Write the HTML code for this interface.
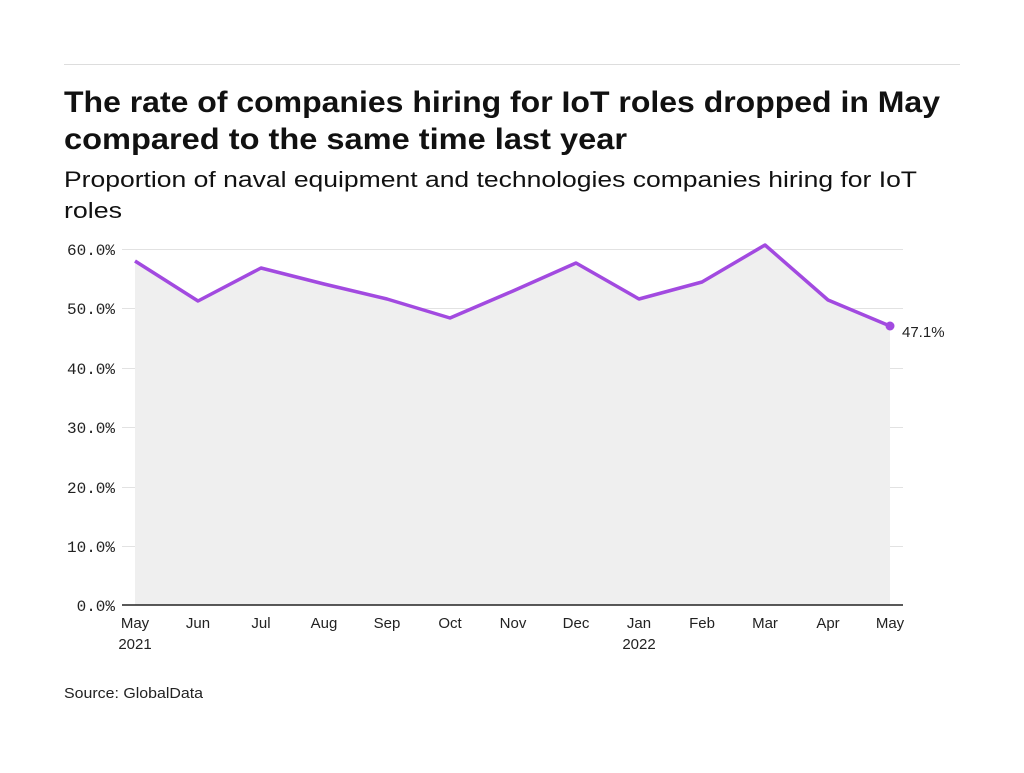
<!DOCTYPE html>
<html><head><meta charset="utf-8"><style>
body{margin:0;background:#fff;width:1024px;height:768px;overflow:hidden;font-family:"Liberation Sans",sans-serif}
</style></head><body>
<svg width="1024" height="768" xmlns="http://www.w3.org/2000/svg">
<line x1="64" y1="64.5" x2="960" y2="64.5" stroke="#ddd"/>
<text x="64" y="112" font-size="30" font-weight="bold" fill="#111" textLength="876" lengthAdjust="spacingAndGlyphs">The rate of companies hiring for IoT roles dropped in May</text>
<text x="64" y="149" font-size="30" font-weight="bold" fill="#111" textLength="563" lengthAdjust="spacingAndGlyphs">compared to the same time last year</text>
<text x="64" y="187" font-size="22" fill="#111" textLength="853" lengthAdjust="spacingAndGlyphs">Proportion of naval equipment and technologies companies hiring for IoT</text>
<text x="64" y="218" font-size="22" fill="#111" textLength="58" lengthAdjust="spacingAndGlyphs">roles</text>
<g stroke="#e2e2e2" stroke-width="1">
<line x1="122" x2="903" y1="249.5" y2="249.5"/><line x1="122" x2="903" y1="308.5" y2="308.5"/>
<line x1="122" x2="903" y1="368.5" y2="368.5"/><line x1="122" x2="903" y1="427.5" y2="427.5"/>
<line x1="122" x2="903" y1="487.5" y2="487.5"/><line x1="122" x2="903" y1="546.5" y2="546.5"/>
</g>
<polygon fill="#efefef" points="135,605 135,261 198,301 261,268 324,284 387,299 450,318 513,291 576,263 639,299 702,282 765,245 828,300 890,326 890,605"/>
<polyline fill="none" stroke="#a24ae0" stroke-width="3.5" stroke-linejoin="round" points="135,261 198,301 261,268 324,284 387,299 450,318 513,291 576,263 639,299 702,282 765,245 828,300 890,326"/>
<circle cx="890" cy="326" r="4.5" fill="#a24ae0"/>
<line x1="122" x2="903" y1="605" y2="605" stroke="#222" stroke-width="1.5"/>
<g font-family="Liberation Mono,monospace" font-size="16" fill="#222" text-anchor="end">
<text x="115" y="255">60.0%</text><text x="115" y="314">50.0%</text><text x="115" y="374">40.0%</text>
<text x="115" y="433">30.0%</text><text x="115" y="493">20.0%</text><text x="115" y="552">10.0%</text><text x="115" y="611">0.0%</text>
</g>
<text x="902" y="337" font-size="15" fill="#222">47.1%</text>
<g font-size="15" fill="#222" text-anchor="middle">
<text x="135" y="628">May</text><text x="135" y="649">2021</text>
<text x="198" y="628">Jun</text><text x="261" y="628">Jul</text><text x="324" y="628">Aug</text>
<text x="387" y="628">Sep</text><text x="450" y="628">Oct</text><text x="513" y="628">Nov</text>
<text x="576" y="628">Dec</text><text x="639" y="628">Jan</text><text x="639" y="649">2022</text>
<text x="702" y="628">Feb</text><text x="765" y="628">Mar</text><text x="828" y="628">Apr</text><text x="890" y="628">May</text>
</g>
<text x="64" y="698" font-size="15" fill="#222" textLength="139" lengthAdjust="spacingAndGlyphs">Source: GlobalData</text>
</svg>
</body></html>
